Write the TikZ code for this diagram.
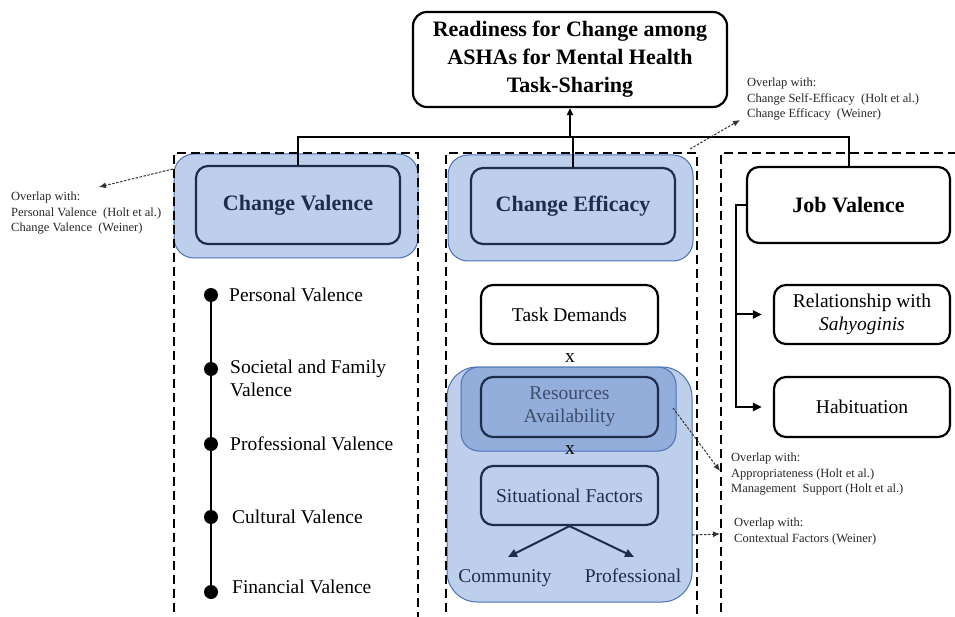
\documentclass[tikz,border=0pt]{standalone}
\usepackage{fontspec}
\setmainfont{Liberation Serif}
\usetikzlibrary{arrows.meta}
\definecolor{paleblue}{HTML}{BDCFEA}
\definecolor{midblue}{HTML}{94AEDC}
\definecolor{edgeblue}{HTML}{4A70B8}
\definecolor{navy}{HTML}{1F2D4D}
\definecolor{slatetext}{HTML}{3E4C6B}
\tikzset{
  txt/.style={font=\fontsize{19.5}{23}\selectfont, align=center},
  boldtxt/.style={font=\fontsize{22}{28}\selectfont\bfseries, align=center},
  blackbox/.style={draw=black, line width=2.2pt, rounded corners=12pt, fill=white, inner sep=0pt},
  groupbox/.style={draw=edgeblue, line width=1pt, fill=paleblue, rounded corners=20pt, inner sep=0pt},
  navybox/.style={draw=navy, line width=2.2pt, rounded corners=12pt, inner sep=0pt, text=navy},
  frame/.style={draw=black, line width=2pt, dash pattern=on 9pt off 5pt},
  link/.style={draw=black, line width=2pt},
  note/.style={font=\fontsize{12.5}{15.2}\selectfont, align=left, anchor=north west, text=black!85, inner sep=0pt},
  notearrow/.style={draw=black!80, line width=1pt, dash pattern=on 2.5pt off 1.5pt, -{Latex[length=7pt,width=6pt]}},
  dot/.style={circle, fill=black, minimum size=14pt, inner sep=0pt},
  vlabel/.style={font=\fontsize{19.5}{23}\selectfont, align=left, anchor=west, inner sep=0pt},
}
\begin{document}
\begin{tikzpicture}[x=1pt, y=-1pt]
\clip (0,0) rectangle (955,617);

% shaded groups
\node[groupbox, minimum width=244pt, minimum height=104pt] (cvout) at (296,206) {};
\node[groupbox, minimum width=245pt, minimum height=106pt] (ceout) at (570.5,208) {};
\node[groupbox, rounded corners=30pt, minimum width=245pt, minimum height=235pt] (sfout) at (569.5,484.5) {};
\node[groupbox, fill=midblue, rounded corners=18pt, minimum width=215pt, minimum height=84pt] (raout) at (568.5,409) {};

% title
\node[blackbox, boldtxt, rounded corners=14pt, minimum width=314pt, minimum height=95pt] (title) at (570,59.5)
  {Readiness for Change among\\ASHAs for Mental Health\\Task-Sharing};

% column heads
\node[navybox, boldtxt, fill=paleblue, minimum width=204pt, minimum height=78pt] (cvin) at (298,205) {Change Valence};
\node[navybox, boldtxt, fill=paleblue, minimum width=204pt, minimum height=76pt] (cein) at (573,206) {Change Efficacy};
\node[blackbox, boldtxt, minimum width=203pt, minimum height=76pt] (jv) at (848.5,205) {Job Valence};

% change efficacy components
\node[blackbox, txt, minimum width=177pt, minimum height=59pt] (td) at (569.5,314.5) {Task Demands};
\node[txt] (x1) at (570,358) {x};
\node[navybox, txt, fill=midblue, text=slatetext, minimum width=177pt, minimum height=60pt] (ra) at (569.5,407) {Resources\\Availability};
\node[txt] (x2) at (570,450) {x};
\node[navybox, txt, fill=paleblue, minimum width=177pt, minimum height=59pt] (sf) at (569.5,495.5) {Situational Factors};
\node[txt, text=navy, inner sep=0pt, anchor=base] (com) at (505,582) {Community};
\node[txt, text=navy, inner sep=0pt, anchor=base] (pro) at (633,582) {Professional};
\coordinate (comtip) at (508,557);
\coordinate (protip) at (634,557);
\draw[draw=navy, line width=2pt, -{Triangle[length=9pt,width=8pt]}] (sf.south) -- (comtip);
\draw[draw=navy, line width=2pt, -{Triangle[length=9pt,width=8pt]}] (sf.south) -- (protip);

% job valence components
\node[blackbox, txt, minimum width=176pt, minimum height=59pt] (rel) at (862,314.5) {Relationship with\\\textit{Sahyoginis}};
\node[blackbox, txt, minimum width=176pt, minimum height=60pt] (hab) at (862,407) {Habituation};
\coordinate (jvspine) at ([xshift=-10pt]jv.west);
\draw[link, -{Triangle[length=9pt,width=8pt]}] (jv.west) -- (jvspine) |- ([xshift=-11pt]hab.west);
\draw[link, -{Triangle[length=9pt,width=8pt]}] (jvspine |- rel.west) -- ([xshift=-11pt]rel.west);

% change valence components
\node[dot] (d1) at (211,295) {};
\node[dot] (d2) at (211,369) {};
\node[dot] (d3) at (211,444) {};
\node[dot] (d4) at (211,517) {};
\node[dot] (d5) at (211,592) {};
\draw[link] (d1) -- (d5);
\node[vlabel] (l1) at (229,295) {Personal Valence};
\node[vlabel] (l2) at (230,378) {Societal and Family\\Valence};
\node[vlabel] (l3) at (230,444) {Professional Valence};
\node[vlabel] (l4) at (232,517) {Cultural Valence};
\node[vlabel] (l5) at (232,587) {Financial Valence};

% dashed column frames
\draw[frame] (174,640) -- (174,153) -- (418,153) -- (418,640);
\draw[frame] (446,640) -- (446,153) -- (697,153) -- (697,640);
\draw[frame] (721,640) -- (721,153) -- (970,153);

% top bar joining the three dimensions
\coordinate (bar) at (570,137);
\draw[link] (cvin.north) -- (cvin.north |- bar) -- (jv.north |- bar) -- (jv.north);
\draw[link] (cein.north) -- (cein.north |- bar);
\draw[link, -{Triangle[length=7pt,width=6pt]}] (title.south |- bar) -- (title.south);

% overlap notes
\node[note] (n1) at (11,192) {Overlap with:\\Personal Valence\ \ (Holt et al.)\\Change Valence\ \ (Weiner)};
\node[note] (n2) at (747,78) {Overlap with:\\Change Self-Efficacy\ \ (Holt et al.)\\Change Efficacy\ \ (Weiner)};
\node[note] (n3) at (731,453) {Overlap with:\\Appropriateness (Holt et al.)\\Management\ \ Support (Holt et al.)};
\node[note] (n4) at (734,518) {Overlap with:\\Contextual Factors (Weiner)};

\coordinate (a1s) at (173,169);
\coordinate (a1e) at (99,187);
\coordinate (a2s) at (690,149);
\coordinate (a2e) at (740,120);
\coordinate (a3s) at (673,408);
\coordinate (a3e) at (720,471);
\coordinate (a4s) at (692,535);
\coordinate (a4e) at (720,534);
\draw[notearrow] (a1s) -- (a1e);
\draw[notearrow] (a2s) -- (a2e);
\draw[notearrow] (a3s) -- (a3e);
\draw[notearrow] (a4s) -- (a4e);
\end{tikzpicture}
\end{document}
